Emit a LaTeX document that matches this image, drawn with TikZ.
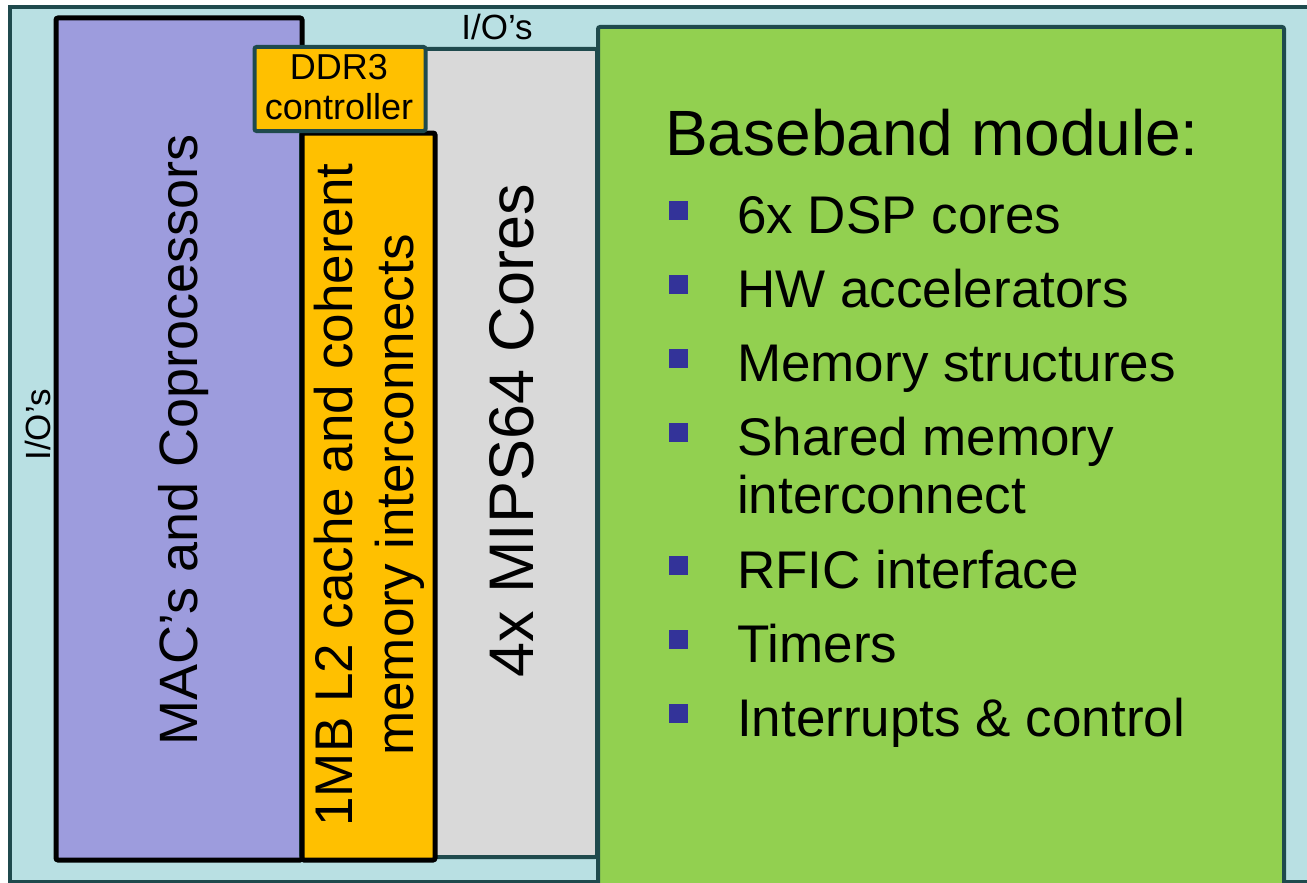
\documentclass[tikz,border=0pt]{standalone}
\usepackage{fontspec}
\setmainfont{Liberation Sans}
\definecolor{chipbg}{HTML}{B9E0E3}
\definecolor{edge}{HTML}{1F4A4D}
\definecolor{macfill}{HTML}{9D9CDD}
\definecolor{cachefill}{HTML}{FFC000}
\definecolor{corefill}{HTML}{D9D9D9}
\definecolor{bbfill}{HTML}{92D050}
\definecolor{bulletc}{HTML}{333399}
\newcommand{\fs}[2]{\fontsize{#1}{#2}\selectfont}
\tikzset{
  blockbox/.style={rectangle, inner sep=0pt, rounded corners=2pt},
  tealbox/.style={blockbox, draw=edge, line width=4pt},
  blackbox/.style={blockbox, draw=black, line width=5pt},
  label/.style={inner sep=0pt, text=black},
  bulletsq/.style={rectangle, fill=bulletc, minimum size=19pt, inner sep=0pt},
  item/.style={label, anchor=base west, font=\fs{53}{58}},
}
\begin{document}
\begin{tikzpicture}[x=1pt, y=-1pt]
  \useasboundingbox (0,0) rectangle (1307,883);
  \clip (0,0) rectangle (1307,883);
  \fill[white] (0,0) rectangle (1307,883);

  % chip outline with I/O ring
  \draw[fill=chipbg, draw=edge, line width=4pt] (10,7) rectangle (1316,882);

  % MAC and coprocessor block
  \node[blackbox, fill=macfill, minimum width=246pt, minimum height=842pt]
    (mac) at (179,439) {};
  % MIPS core block
  \node[tealbox, fill=corefill, minimum width=296pt, minimum height=808pt]
    (mips) at (449,453) {};
  % L2 cache block
  \node[blackbox, fill=cachefill, minimum width=133pt, minimum height=727pt]
    (ltwo) at (368.5,496.5) {};
  % DDR3 controller
  \node[tealbox, fill=cachefill, minimum width=171pt, minimum height=84pt]
    (ddr) at (340,89) {};
  % baseband module
  \node[tealbox, fill=bbfill, minimum width=686pt, minimum height=870pt]
    (bb) at (941,462) {};

  % I/O labels
  \node[label, anchor=base, font=\fs{35}{40}] (iotop) at (497,40) {I/O’s};
  \node[label, anchor=base, rotate=90, font=\fs{35}{40}] (ioleft) at (50,425) {I/O’s};

  % block labels
  \node[label, anchor=base, rotate=90, font=\fs{54}{60}] (mactext) at (197,440)
    {MAC’s and Coprocessors};
  \node[label, rotate=90, align=center, font=\fs{53}{61}] (ltwotext) at (369,495)
    {1MB L2 cache and coherent\\memory interconnects};
  \node[label, anchor=base, rotate=90, font=\fs{63}{70}] (mipstext) at (533,431)
    {4x MIPS64 Cores};
  \node[label, align=center, font=\fs{36}{40}] (ddrtext) at (339,87)
    {DDR3\\controller};

  % baseband feature list
  \node[label, anchor=base west, font=\fs{64}{70}] (bbtitle) at (665,155)
    {Baseband module:};
  \node[item] (i1) at (737,233) {6x DSP cores};
  \node[item] (i2) at (737,307) {HW accelerators};
  \node[item] (i3) at (737,381) {Memory structures};
  \node[item, align=left] (i4) at (737,513) {Shared memory\\interconnect};
  \node[item] (i5) at (737,588) {RFIC interface};
  \node[item] (i6) at (737,662) {Timers};
  \node[item] (i7) at (737,736) {Interrupts \& control};
  \foreach \y [count=\k] in {210,284,358,432,565,639,713}
    \node[bulletsq] (b\k) at (678,\y) {};
\end{tikzpicture}
\end{document}
